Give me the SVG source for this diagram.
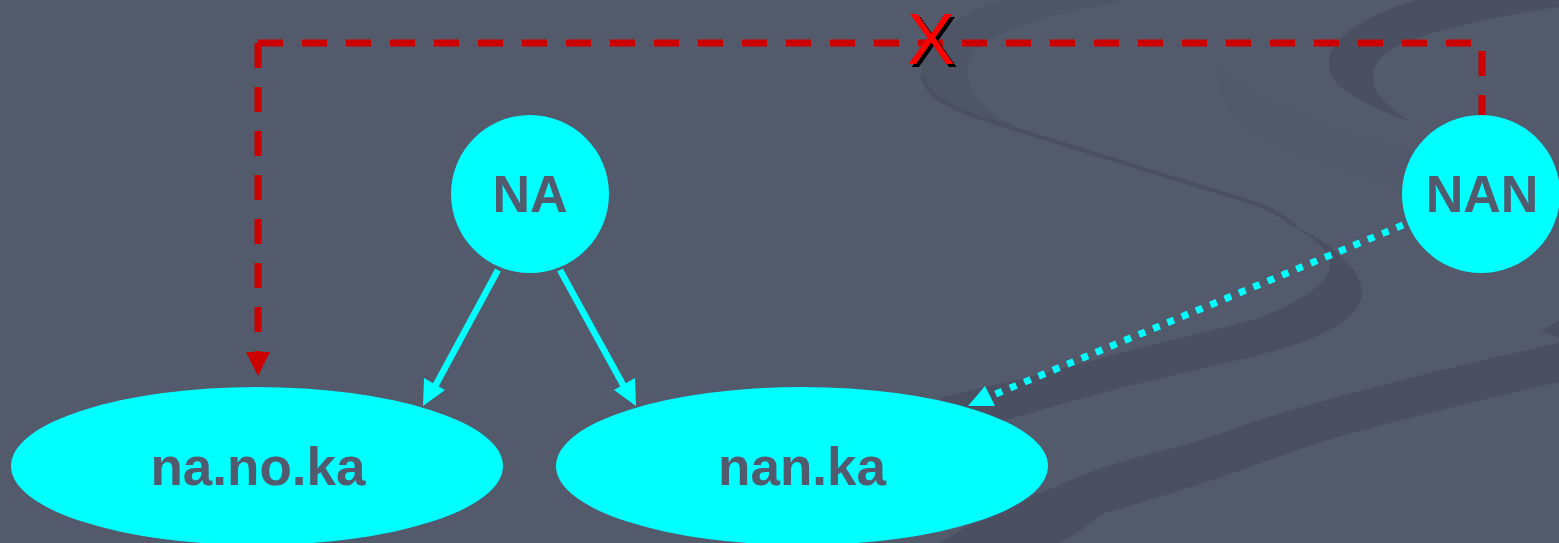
<svg xmlns="http://www.w3.org/2000/svg" width="1559" height="543" viewBox="0 0 1559 543">
<style>
.node{fill:#00ffff}
.lbl{font-family:"Liberation Sans",Arial,sans-serif;font-weight:bold;fill:#525a6e;text-anchor:middle}
.band{fill:#4a5062}
.faint{fill:#4e5567}
.xmark{font-family:"Liberation Sans",Arial,sans-serif;font-size:72px;text-anchor:middle}
</style>
<rect width="1559" height="543" fill="#525a6b"/>
<g id="background">
<path class="faint" d="M1217,67 C1260,100 1330,130 1410,150 L1410,190 C1340,170 1280,150 1240,125 C1225,110 1218,90 1217,67 Z" opacity="0.4"/>
<path class="faint" d="M1000,0 C955,15 918,45 922,75 C928,102 965,117 1033,135 C995,118 970,100 967,75 C965,50 990,25 1127,0 Z"/>
<path d="M922,75 C926,95 950,110 1000,124 C1080,150 1180,180 1260,205 C1275,211 1285,218 1295,226" fill="none" stroke="#4a5062" stroke-width="4"/>
<path class="band" d="M1285,222 C1335,243 1364,272 1362,295 C1360,315 1335,330 1300,343 C1260,357 1200,368 1150,381 C1100,392 1040,410 940,440 L940,398 C1000,384 1060,370 1105,357 C1160,342 1220,330 1261,317 C1305,300 1332,280 1330,262 C1328,248 1312,236 1285,222 Z"/>
<path class="band" d="M1559,343 C1480,360 1400,380 1338,397 C1290,410 1250,422 1222,433 C1180,448 1140,455 1105,467 C1080,475 1060,485 1047,490 C1010,505 970,522 940,543 L1059,543 C1080,532 1095,520 1105,513 C1150,500 1190,488 1222,477 C1270,460 1300,448 1338,437 C1400,420 1480,400 1559,382 Z"/>
<path class="band" d="M1417,0 C1380,10 1350,27 1335,45 C1325,60 1328,75 1340,87 C1360,102 1390,115 1412,122 C1395,112 1380,100 1375,88 C1370,72 1375,58 1395,47 C1420,35 1470,20 1559,7 L1559,0 Z"/>
<path class="band" d="M1541,331 L1559,320 L1559,338 Z"/>
</g>
<g id="connectors">
<path d="M258,43 L1482,43 L1482,115" fill="none" stroke="#cc0000" stroke-width="7" stroke-dasharray="25 19"/>
<path d="M258,43 L258,355" fill="none" stroke="#cc0000" stroke-width="7" stroke-dasharray="25 19"/>
<path d="M246,352 L270,352 L258,376 Z" fill="#cc0000"/>
<line x1="498" y1="270" x2="432" y2="392" stroke="#00ffff" stroke-width="6.5"/>
<path d="M423,406 L424,378 L445,390 Z" fill="#00ffff"/>
<line x1="560" y1="270" x2="627" y2="392" stroke="#00ffff" stroke-width="6.5"/>
<path d="M636,406 L614,390 L635,378 Z" fill="#00ffff"/>
<line x1="1403" y1="225" x2="986" y2="398" stroke="#00ffff" stroke-width="7" stroke-dasharray="7 8.5"/>
<path d="M968,406 L985,386 L995,406 Z" fill="#00ffff"/>
<text class="xmark" x="934" y="67" fill="#000000">X</text>
<text class="xmark" x="931" y="64" fill="#ff0000">X</text>
</g>
<g id="node-NA">
<circle class="node" cx="530" cy="194" r="79"/>
<text class="lbl" x="530" y="212" font-size="52">NA</text>
</g>
<g id="node-NAN">
<circle class="node" cx="1481" cy="194" r="79"/>
<text class="lbl" x="1482" y="212" font-size="52">NAN</text>
</g>
<g id="node-nanoka">
<ellipse class="node" cx="257" cy="466" rx="246" ry="79"/>
<text class="lbl" x="258" y="485" font-size="53">na.no.ka</text>
</g>
<g id="node-nanka">
<ellipse class="node" cx="802" cy="466" rx="246" ry="79"/>
<text class="lbl" x="802" y="485" font-size="53">nan.ka</text>
</g>
</svg>
